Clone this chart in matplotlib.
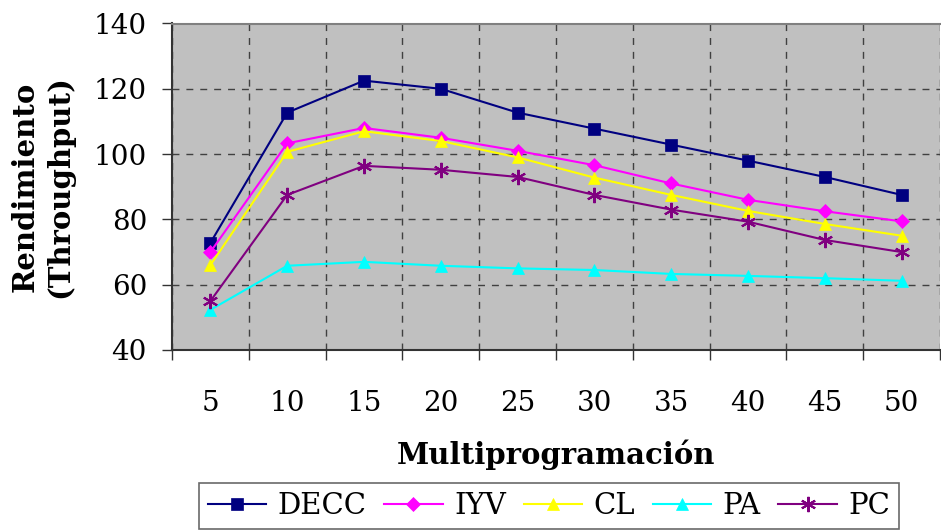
import numpy as np
import matplotlib.pyplot as plt
from matplotlib.ticker import FixedLocator

plt.rcParams['font.family'] = 'DejaVu Serif'

# Multiprogramación levels
multiprog = [5, 10, 15, 20, 25, 30, 35, 40, 45, 50]

# Throughput per policy
decc = [72.8, 112.7, 122.5, 120.0, 112.7, 107.8, 102.9, 98.0, 93.0, 87.5]
iyv = [70.0, 103.3, 108.0, 105.0, 101.0, 96.6, 91.0, 86.0, 82.5, 79.4]
cl = [66.0, 100.7, 107.0, 104.0, 99.0, 92.8, 87.5, 82.6, 78.6, 75.0]
pa = [52.3, 65.8, 67.0, 65.8, 65.0, 64.5, 63.3, 62.7, 62.0, 61.2]
pc = [55.0, 87.5, 96.4, 95.2, 93.0, 87.5, 83.0, 79.3, 73.7, 70.0]

series = [
    ('DECC', decc, '#000080', 's', 8),
    ('IYV', iyv, '#FF00FF', 'D', 7),
    ('CL', cl, '#FFFF00', '^', 9),
    ('PA', pa, '#00FFFF', '^', 9),
    ('PC', pc, '#800080', (6, 2, 0), 11),
]

fig = plt.figure(figsize=(9.41, 5.30), dpi=100)
ax = fig.add_axes([172 / 941, 1 - 350 / 530, 768 / 941, 326.5 / 530])
ax.set_facecolor('#C0C0C0')

x = np.arange(len(multiprog))
for name, vals, col, mk, ms in series:
    ax.plot(x, vals, color=col, marker=mk, markersize=ms, linewidth=1.5,
            markeredgewidth=1.5 if mk == (6, 2, 0) else 0.5, label=name)

ax.set_xlim(-0.5, 9.5)
ax.set_ylim(40, 140)
ax.set_yticks(np.arange(40, 141, 20))
ax.set_xticks(x)
ax.set_xticklabels([str(v) for v in multiprog])
ax.xaxis.set_minor_locator(FixedLocator(np.arange(-0.5, 9.6, 1)))
ax.tick_params(axis='x', which='major', length=0, pad=29, labelsize=20)
ax.tick_params(axis='x', which='minor', length=7, width=1, color='#333333')
ax.tick_params(axis='y', length=7, width=1, labelsize=20, color='#333333', pad=11)

ax.grid(True, axis='y', which='major', linestyle=(0, (5, 5)), color='#404040', linewidth=1)
ax.grid(True, axis='x', which='minor', linestyle=(0, (5, 5)), color='#404040', linewidth=1)
ax.set_axisbelow(True)

ax.spines['left'].set_color('#333333')
ax.spines['bottom'].set_color('#333333')
ax.spines['top'].set_color('#808080')
ax.spines['right'].set_visible(False)
for s in ['left', 'bottom', 'top']:
    ax.spines[s].set_linewidth(1.5)

ax.set_ylabel('Rendimiento\n(Throughput)', fontsize=21, fontweight='bold', labelpad=14,
              linespacing=1.25)
ax.set_xlabel('Multiprogramación', fontsize=21, fontweight='bold', labelpad=16)

leg = ax.legend(loc='upper center', ncol=5,
                fontsize=21, frameon=True, fancybox=False, edgecolor='#444444',
                handlelength=2.0, columnspacing=0.6, handletextpad=0.4,
                borderpad=0.3, borderaxespad=0)
leg.set_bbox_to_anchor((549 / 941, 1 - 483 / 530), transform=fig.transFigure)
leg.get_frame().set_linewidth(1.2)

fig.savefig('out.png', dpi=100)
